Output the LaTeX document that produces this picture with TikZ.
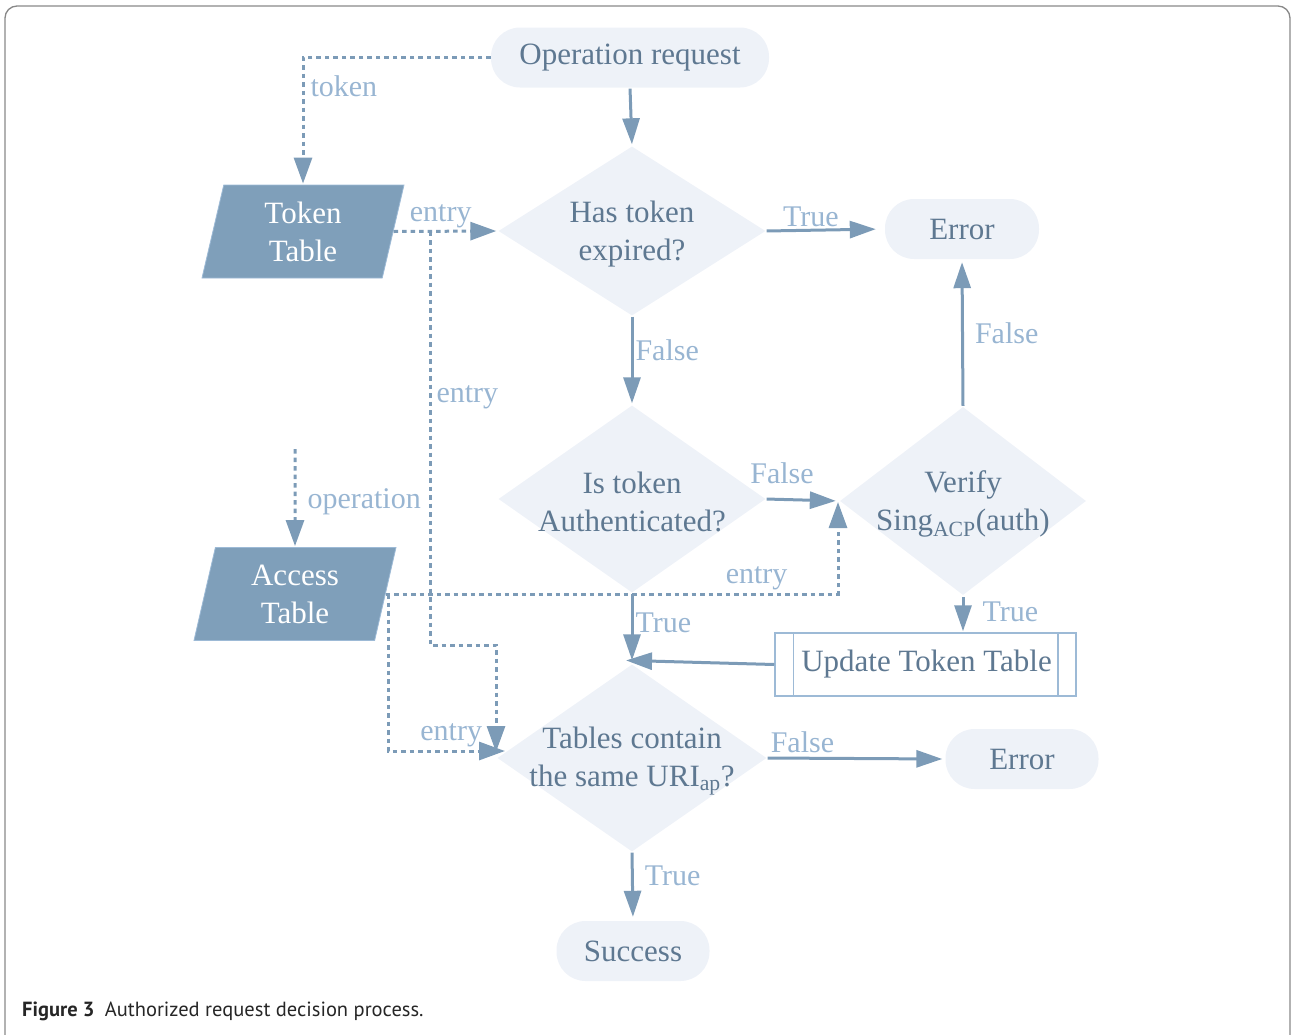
\documentclass[tikz,border=0pt]{standalone}
\usepackage{fontspec}
\setmainfont{Liberation Serif}
\newfontfamily\capfont{PT Sans}
\usetikzlibrary{shapes.geometric,arrows.meta,calc}
\definecolor{nfill}{HTML}{EEF2F8}
\definecolor{dark}{HTML}{7F9FBA}
\definecolor{linec}{HTML}{7C9BB7}
\definecolor{lblc}{HTML}{98B5D2}
\definecolor{txtc}{HTML}{5E7891}
\definecolor{updc}{HTML}{9DBAD6}
\definecolor{framec}{HTML}{888888}
\begin{document}
\begin{tikzpicture}[x=1pt,y=-1pt,
  every node/.style={font=\fontsize{30}{38}\selectfont},
  nfont/.style={font=\fontsize{31}{38}\selectfont},
  pill/.style={rectangle, rounded corners=29pt, fill=nfill, text=txtc, minimum height=60pt, inner sep=0pt, nfont},
  dia/.style={diamond, fill=nfill, inner sep=0pt},
  dtext/.style={align=center, text=txtc, inner sep=0pt, nfont, yshift=-3pt},
  para/.style={trapezium, trapezium left angle=70, trapezium right angle=110, trapezium stretches body,
    fill=dark, draw=updc, line width=0.8pt, text=white, align=center, minimum width=202pt, minimum height=93pt, inner sep=0pt, nfont},
  arr/.style={draw=linec, line width=3pt, -{Triangle[length=26pt,width=17pt]}},
  dsh/.style={draw=linec, line width=3pt, dash pattern=on 4.5pt off 4pt, -{Triangle[length=26pt,width=18pt]}},
  lbl/.style={text=lblc, inner sep=2pt}
]
\useasboundingbox (0,0) rectangle (1291,1034);
\draw[framec, line width=1.3pt, rounded corners=12pt] (5,6) rectangle (1290,1060);

% nodes
\node[pill, minimum width=278pt] (op) at (630,57.5) {\raisebox{-2pt}{Operation request}};
\node[dia, minimum width=267pt, minimum height=169pt, label={[dtext]center:Has token\\expired?}] (d1) at (632,231) {};
\node[pill, minimum width=154pt] (err1) at (962,229) {\raisebox{-2pt}{Error}};
\node[dia, minimum width=267pt, minimum height=187pt, label={[dtext]center:Is token\\Authenticated?}] (d2) at (632,499) {};
\node[dia, minimum width=246pt, minimum height=188pt, label={[dtext]center:Verify\\Sing\textsubscript{ACP}(auth)}] (d3) at (963,501) {};
\node[rectangle, draw=updc, line width=1.5pt, fill=white, text=txtc, minimum width=301pt, minimum height=63pt, inner sep=0pt, nfont] (upd) at (925.5,664.5) {\hspace*{2pt}\raisebox{-1pt}{Update Token Table}};
\draw[updc, line width=1.5pt] ($(upd.north west)+(19,0)$) -- ($(upd.south west)+(19,0)$);
\draw[updc, line width=1.5pt] ($(upd.north east)+(-19,0)$) -- ($(upd.south east)+(-19,0)$);
\node[dia, minimum width=269pt, minimum height=187pt, label={[dtext]center:Tables contain\\the same URI\textsubscript{ap}?}] (d4) at (632,758) {};
\node[pill, minimum width=153pt] (err2) at (1022,759) {\raisebox{-2pt}{Error}};
\node[pill, minimum width=153pt] (succ) at (633,951) {\raisebox{-2pt}{Success}};
\node[para] (tt) at (303,231.5) {Token\\Table};
\node[para] (at) at (295,594) {Access\\Table};

% solid connectors
\draw[arr, shorten <=1pt, shorten >=2pt] (op.south) -- (d1.north);
\draw[arr, shorten <=1pt, shorten >=9pt] (d1.east) -- node[lbl, above, pos=0.38]{True} (err1.west);
\draw[arr, shorten <=1pt, shorten >=2pt] (d1.south) -- node[lbl, right, pos=0.38]{False} (d2.north);
\draw[arr, shorten <=1pt, shorten >=4pt] (d2.east) -- node[lbl, above, pos=0.22, inner sep=14pt]{False} (d3.west);
\draw[arr, shorten <=1pt, shorten >=3pt] (d3.north) -- node[lbl, right, pos=0.5, inner sep=11pt]{False} (err1.south);
\draw[arr, shorten <=2pt, shorten >=1pt] (d3.south) -- node[lbl, right, pos=0.45, inner sep=18pt]{True} (d3.south |- upd.north);
\draw[arr, shorten <=1pt, shorten >=4pt] (d2.south) -- node[lbl, right, pos=0.42]{True} (d4.north);
\draw[arr, shorten >=4pt] (upd.west) -- ($(d4.north)+(-10,-4)$);
\draw[arr, shorten <=1pt, shorten >=3pt] (d4.east) -- node[lbl, above, pos=0.2, inner sep=4pt]{False} (err2.west);
\draw[arr, shorten <=1pt, shorten >=4pt] (d4.south) -- node[lbl, right, pos=0.35, inner sep=11pt]{True} (succ.north);

% dashed connectors
\draw[dsh, shorten >=1pt] (op.west) -| node[lbl, right, pos=0.615, inner sep=6pt]{token} (tt.north);
\draw[dsh, shorten >=2pt] (tt.east) -- node[lbl, above, pos=0.45]{entry} (d1.west);
\coordinate (j1) at (430,231.5);
\coordinate (j2) at (430,645);
\coordinate (j4) at (496,752);
\draw[dsh] (j1) -- node[lbl, right, pos=0.40, inner sep=5pt]{entry} (j2) -| (j4);
\coordinate (o0) at (295,449);
\draw[dsh, shorten >=1pt] (o0) -- node[lbl, right, pos=0.54, inner sep=11pt]{operation} (at.north);
\coordinate (e3) at (838,502);
\draw[dsh] (at.east) -| node[lbl, above, pos=0.41, inner sep=3pt]{entry} (e3);
\coordinate (k1) at (388,594);
\coordinate (k2) at (505,751);
\draw[dsh] (k1) |- node[lbl, above, pos=0.77, inner sep=3pt]{entry} (k2);

% caption
\node[anchor=base west, inner sep=0pt, text=black!85, font=\capfont\fontsize{20.5}{20.5}\selectfont] (cap) at (22,1016) {\textbf{Figure 3}\enspace Authorized request decision process.};
\end{tikzpicture}
\end{document}
